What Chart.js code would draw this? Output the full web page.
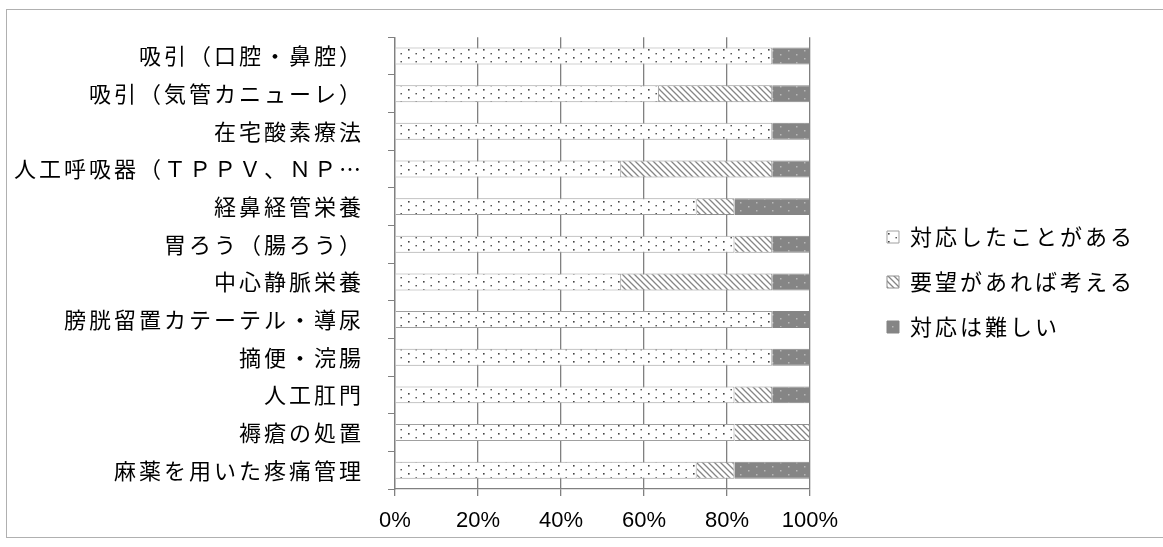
<!DOCTYPE html>
<html lang="ja">
<head>
<meta charset="utf-8">
<title>対応状況</title>
<script src="https://cdn.jsdelivr.net/npm/chart.js@4.4.1/dist/chart.umd.min.js"></script>
<style>
  html, body { margin: 0; padding: 0; background: #fff; }
  #wrap { width: 1163px; height: 547px; }
</style>
</head>
<body>
<div id="wrap"><canvas id="chart" width="1163" height="547"></canvas></div>
<script>
// 項目（上から順に表示）
const categories = [
  '吸引（口腔・鼻腔）',
  '吸引（気管カニューレ）',
  '在宅酸素療法',
  '人工呼吸器（ＴＰＰＶ、ＮＰ…',
  '経鼻経管栄養',
  '胃ろう（腸ろう）',
  '中心静脈栄養',
  '膀胱留置カテーテル・導尿',
  '摘便・浣腸',
  '人工肛門',
  '褥瘡の処置',
  '麻薬を用いた疼痛管理'
];
const seriesNames = ['対応したことがある', '要望があれば考える', '対応は難しい'];

// 割合（%）
const experienced = [90.9, 63.6, 90.9, 54.5, 72.7, 81.8, 54.5, 90.9, 90.9, 81.8, 81.8, 72.7];
const consider    = [0, 27.3, 0, 36.4, 9.1, 9.1, 36.4, 0, 0, 9.1, 18.2, 9.1];
const difficult   = [9.1, 9.1, 9.1, 9.1, 18.2, 9.1, 9.1, 9.1, 9.1, 9.1, 0, 18.2];
const xTicks = [0, 20, 40, 60, 80, 100];

const canvas = document.getElementById('chart');
const mainCtx = canvas.getContext('2d');

// 塗りパターン
function tile(w, h, paint) {
  const c = document.createElement('canvas');
  c.width = w; c.height = h;
  paint(c.getContext('2d'), w, h);
  return mainCtx.createPattern(c, 'repeat');
}

const dotFill = tile(15, 8, (g, w, h) => {
  g.fillStyle = '#fff'; g.fillRect(0, 0, w, h);
  g.fillStyle = '#444';
  g.fillRect(3, 1, 1.6, 1.6);
  g.fillRect(10.5, 5, 1.4, 1.4);
});

const hatchFill = tile(6, 6, (g, w, h) => {
  g.fillStyle = '#fff'; g.fillRect(0, 0, w, h);
  g.strokeStyle = '#858585'; g.lineWidth = 1.3;
  g.beginPath();
  g.moveTo(-1, -1); g.lineTo(7, 7);
  g.moveTo(-1, 5); g.lineTo(1, 7);
  g.moveTo(5, -1); g.lineTo(7, 1);
  g.stroke();
});

const darkFill = tile(16, 8, (g, w, h) => {
  g.fillStyle = '#858585'; g.fillRect(0, 0, w, h);
  g.fillStyle = '#b8b8b8';
  g.fillRect(4, 2, 1.5, 1.5);
  g.fillRect(12, 6, 1.5, 1.5);
});

// 文字間隔（x軸の目盛ラベルは詰める）
const spacing = {
  id: 'spacing',
  beforeLayout(chart) { chart.ctx.letterSpacing = '3px'; },
  beforeDraw(chart) {
    chart.ctx.letterSpacing = '3px';
    const x = chart.scales.x;
    if (x && !x._plain) {
      const orig = x.drawLabels.bind(x);
      x.drawLabels = function(area) {
        const c = this.ctx;
        const prev = c.letterSpacing;
        c.letterSpacing = '0px';
        orig(area);
        c.letterSpacing = prev;
      };
      x._plain = true;
    }
  }
};

// 外枠
const frame = {
  id: 'frame',
  afterDraw(chart) {
    const c = chart.ctx;
    c.save();
    c.strokeStyle = '#b0b0b0';
    c.lineWidth = 1;
    c.strokeRect(6.5, 9.5, 1160, 528);
    c.restore();
  }
};

Chart.defaults.font.family = "'Noto Sans CJK JP', sans-serif";
Chart.defaults.color = '#000';

new Chart(canvas, {
  type: 'bar',
  data: {
    labels: categories,
    datasets: [
      { label: seriesNames[0], data: experienced, backgroundColor: dotFill, borderColor: '#a0a0a0', borderWidth: 1 },
      { label: seriesNames[1], data: consider, backgroundColor: hatchFill, borderColor: '#909090', borderWidth: 1 },
      { label: seriesNames[2], data: difficult, backgroundColor: darkFill, borderColor: '#858585', borderWidth: 1 }
    ]
  },
  options: {
    indexAxis: 'y',
    responsive: false,
    animation: false,
    devicePixelRatio: 1,
    layout: { padding: { left: 0, top: 37, right: 18, bottom: 20 } },
    datasets: { bar: { categoryPercentage: 0.9, barPercentage: 0.5 } },
    plugins: {
      tooltip: { enabled: false },
      legend: {
        position: 'right',
        align: 'center',
        maxWidth: 320,
        labels: {
          font: { size: 22 },
          color: '#000',
          boxWidth: 12,
          boxHeight: 12,
          padding: 23
        }
      }
    },
    scales: {
      x: {
        stacked: true,
        min: 0,
        max: 100,
        afterBuildTicks: s => { s.ticks = xTicks.map(v => ({ value: v })); },
        afterFit: s => { s.height = 38; },
        grid: { color: '#808080', lineWidth: 1.3, tickLength: 7 },
        border: { color: '#808080', width: 1.3 },
        ticks: {
          font: { family: "'Liberation Sans', Arial, sans-serif", size: 22 },
          color: '#000',
          padding: 12,
          maxRotation: 0,
          callback: v => v + '%'
        }
      },
      y: {
        stacked: true,
        afterFit: s => { s.width = 395; },
        grid: { drawOnChartArea: false, color: '#808080', tickLength: 7 },
        border: { color: '#808080', width: 1.3 },
        ticks: { font: { size: 22 }, color: '#000', padding: 24, autoSkip: false }
      },
      gap: {
        type: 'linear',
        position: 'right',
        grid: { display: false },
        ticks: { display: false },
        border: { display: false },
        afterFit: s => { s.width = 54; }
      }
    }
  },
  plugins: [spacing, frame]
});
</script>
</body>
</html>
